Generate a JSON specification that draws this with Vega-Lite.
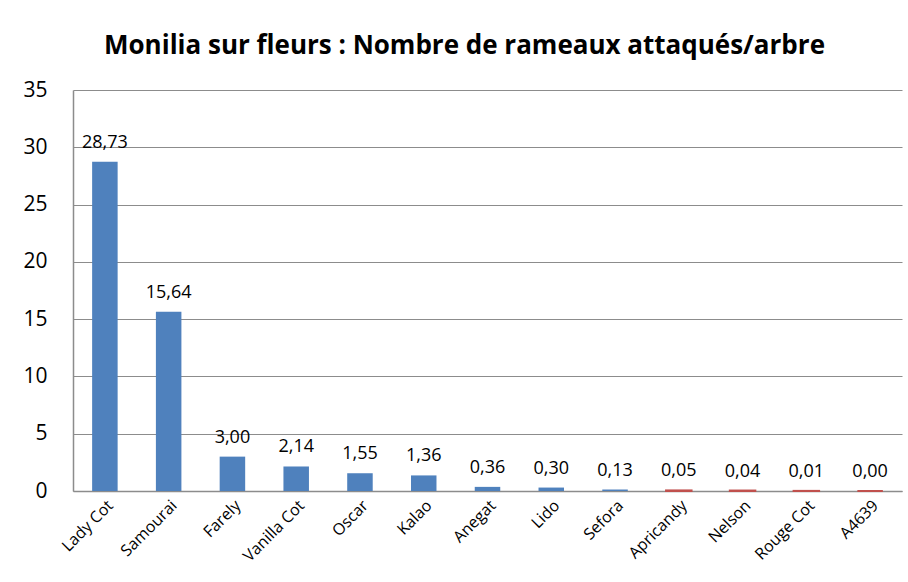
{
  "$schema": "https://vega.github.io/schema/vega-lite/v6.json",
  "width": 829,
  "height": 401,
  "autosize": {"type": "none"},
  "padding": {"left": 73, "top": 90, "right": 6, "bottom": 91},
  "background": "white",
  "config": {
    "font": "Open Sans",
    "view": {"stroke": null},
    "locale": {"number": {"decimal": ",", "thousands": " ", "grouping": [3], "currency": ["", " €"]}}
  },
  "title": {
    "text": "Monilia sur fleurs : Nombre de rameaux attaqués/arbre",
    "fontSize": 26,
    "fontWeight": "bold",
    "font": "Open Sans",
    "color": "#000000",
    "anchor": "middle",
    "dx": -23,
    "offset": 20
  },
  "data": {
    "values": [
      {"variete": "Lady Cot", "valeur": 28.73},
      {"variete": "Samourai", "valeur": 15.64},
      {"variete": "Farely", "valeur": 3.00},
      {"variete": "Vanilla Cot", "valeur": 2.14},
      {"variete": "Oscar", "valeur": 1.55},
      {"variete": "Kalao", "valeur": 1.36},
      {"variete": "Anegat", "valeur": 0.36},
      {"variete": "Lido", "valeur": 0.30},
      {"variete": "Sefora", "valeur": 0.13},
      {"variete": "Apricandy", "valeur": 0.05},
      {"variete": "Nelson", "valeur": 0.04},
      {"variete": "Rouge Cot", "valeur": 0.01},
      {"variete": "A4639", "valeur": 0.00}
    ]
  },
  "encoding": {
    "x": {
      "field": "variete",
      "type": "nominal",
      "sort": null,
      "scale": {"paddingInner": 0.6, "paddingOuter": 0.3},
      "axis": {
        "title": null,
        "labelAngle": -45,
        "labelFont": "Open Sans",
        "labelFontSize": 16,
        "labelColor": "#000000",
        "labelPadding": 6,
        "ticks": false,
        "domainColor": "#8c8c8c",
        "domainWidth": 1.5
      }
    },
    "y": {
      "field": "valeur",
      "type": "quantitative",
      "scale": {"domain": [0, 35], "nice": false},
      "axis": {
        "title": null,
        "values": [0, 5, 10, 15, 20, 25, 30, 35],
        "labelFont": "Open Sans",
        "labelFontSize": 21,
        "labelColor": "#000000",
        "labelPadding": 26,
        "ticks": false,
        "grid": true,
        "gridColor": "#8c8c8c",
        "gridWidth": 1,
        "domainColor": "#8c8c8c",
        "domainWidth": 1.5
      }
    }
  },
  "layer": [
    {
      "mark": {"type": "bar", "color": "#4F81BD", "strokeWidth": 2},
      "encoding": {
        "stroke": {
          "condition": {"test": "datum.valeur < 0.1", "value": "#C0504D"},
          "value": null
        }
      }
    },
    {
      "mark": {"type": "text", "baseline": "alphabetic", "dy": -14, "fontSize": 18, "color": "#000000", "font": "Open Sans"},
      "encoding": {
        "text": {"field": "valeur", "type": "quantitative", "format": ".2f"}
      }
    }
  ]
}
